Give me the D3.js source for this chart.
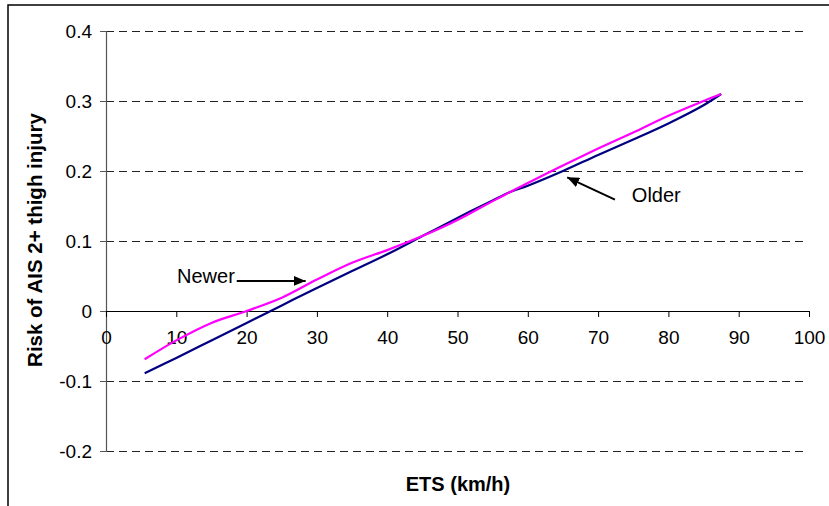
<!DOCTYPE html>
<html>
<head>
<meta charset="utf-8">
<script src="https://cdn.jsdelivr.net/npm/d3@7"></script>
<style>
  html, body { margin: 0; padding: 0; background: #fff; }
  svg { display: block; }
  text { font-family: "Liberation Sans", Arial, sans-serif; }
</style>
</head>
<body>
<svg id="chart" width="829" height="506"></svg>
<script>
// ---- data ----
const speeds = [5.5, 10, 15, 20, 25, 30, 35, 40, 45, 50, 55, 57.5, 60, 65, 70, 75, 80, 85, 87.5];
const newerRisk = [-0.069, -0.042, -0.017, 0.000, 0.019, 0.045, 0.069, 0.087, 0.107, 0.130, 0.157, 0.170, 0.183, 0.208, 0.232, 0.255, 0.279, 0.300, 0.310];
const olderRisk = [-0.089, -0.067, -0.042, -0.017, 0.008, 0.033, 0.057, 0.081, 0.107, 0.133, 0.158, 0.170, 0.179, 0.200, 0.223, 0.245, 0.268, 0.294, 0.310];
const xTicks = [0, 10, 20, 30, 40, 50, 60, 70, 80, 90, 100];
const yTicks = [-0.2, -0.1, 0, 0.1, 0.2, 0.3, 0.4];
const yTickLabels = ["-0.2", "-0.1", "0", "0.1", "0.2", "0.3", "0.4"];
const xTitle = "ETS (km/h)";
const yTitle = "Risk of AIS 2+ thigh injury";
// annotations in data coordinates
const annotations = [
  { label: "Newer", tx: 10.1, ty: 0.040, from: [18.6, 0.043], to: [28.4, 0.043] },
  { label: "Older", tx: 74.8, ty: 0.156, from: [72.4, 0.159], to: [65.6, 0.191] }
];

// ---- chart ----
const svg = d3.select("#chart");
const x = d3.scaleLinear().domain([0, 100]).range([106, 809]);
const y = d3.scaleLinear().domain([-0.2, 0.4]).range([451, 31]);

// outer frame
svg.append("rect").attr("x", 8).attr("y", 5).attr("width", 1000).attr("height", 1000)
  .attr("fill", "none").attr("stroke", "#000").attr("stroke-width", 1.5);

// gridlines (dashed)
svg.append("g").selectAll("line").data(yTicks.filter(d => d !== 0)).join("line")
  .attr("x1", x(0)).attr("x2", x(100) - 2)
  .attr("y1", d => y(d) + 0.5).attr("y2", d => y(d) + 0.5)
  .attr("stroke", "#222").attr("stroke-width", 1.2).attr("stroke-dasharray", "8,5");

// y axis
const yAxis = d3.axisLeft(y).tickValues(yTicks).tickSize(6).tickPadding(8)
  .tickFormat((d, i) => yTickLabels[i]);
const gy = svg.append("g").attr("transform", `translate(${x(0)},0)`).call(yAxis);
gy.select(".domain").attr("stroke", "#555").attr("stroke-width", 1.2);
gy.selectAll(".tick line").attr("stroke", "#555");
gy.selectAll(".tick text").attr("font-size", 19).attr("fill", "#000")
  .attr("font-family", "Liberation Sans, Arial, sans-serif");

// x axis at y = 0
const xAxis = d3.axisBottom(x).tickValues(xTicks).tickSize(6).tickPadding(14).tickSizeOuter(0);
const gx = svg.append("g").attr("transform", `translate(0,${y(0)})`).call(xAxis);
gx.select(".domain").attr("stroke", "#000").attr("stroke-width", 1.2);
gx.selectAll(".tick line").attr("stroke", "#000");
gx.selectAll(".tick text").attr("font-size", 19).attr("fill", "#000")
  .attr("font-family", "Liberation Sans, Arial, sans-serif");

// lines
const line = d3.line().x(d => x(d[0])).y(d => y(d[1])).curve(d3.curveCatmullRom.alpha(0.5));
svg.append("path").datum(speeds.map((s, i) => [s, olderRisk[i]]))
  .attr("d", line).attr("fill", "none").attr("stroke", "#000080").attr("stroke-width", 2.2);
svg.append("path").datum(speeds.map((s, i) => [s, newerRisk[i]]))
  .attr("d", line).attr("fill", "none").attr("stroke", "#FF00FF").attr("stroke-width", 2.2);

// arrow marker
svg.append("defs").append("marker").attr("id", "arrow")
  .attr("viewBox", "0 0 12 10").attr("refX", 12).attr("refY", 5)
  .attr("markerWidth", 12).attr("markerHeight", 10).attr("markerUnits", "userSpaceOnUse")
  .attr("orient", "auto")
  .append("path").attr("d", "M0,0 L12,5 L0,10 Z").attr("fill", "#000");

const ann = svg.append("g");
annotations.forEach(a => {
  ann.append("line")
    .attr("x1", x(a.from[0])).attr("y1", y(a.from[1]))
    .attr("x2", x(a.to[0])).attr("y2", y(a.to[1]))
    .attr("stroke", "#000").attr("stroke-width", 2).attr("marker-end", "url(#arrow)");
  ann.append("text").attr("x", x(a.tx)).attr("y", y(a.ty))
    .attr("font-size", 20).attr("fill", "#000").text(a.label);
});

// axis titles
svg.append("text").attr("x", 458).attr("y", 491).attr("text-anchor", "middle")
  .attr("font-size", 20).attr("font-weight", "bold").text(xTitle);
svg.append("text").attr("transform", "translate(42,240) rotate(-90)")
  .attr("text-anchor", "middle").attr("font-size", 20.5).attr("font-weight", "bold").text(yTitle);
</script>
</body>
</html>
